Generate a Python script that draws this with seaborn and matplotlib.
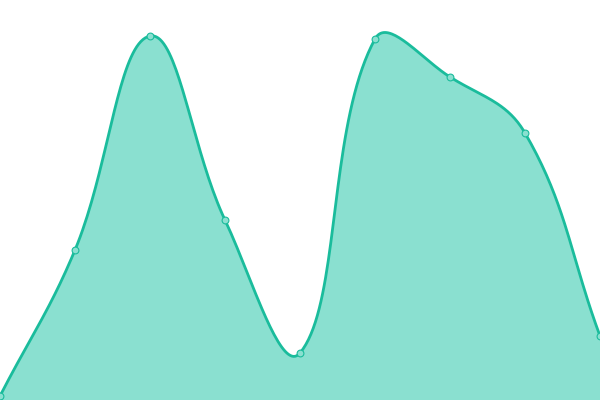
import numpy as np
import pandas as pd
import seaborn as sns
import matplotlib.pyplot as plt

categories = list(range(9))
values = [4, 150, 364, 180, 47, 361, 323, 267, 64]

line_color = "#1abc9c"
fill_color = "#8ae0d0"
smooth = 0.4


def smooth_curve(xs, ys, smooth, n=40):
    # cubic bezier smoothing in pixel space, control points from neighbours
    pts = np.column_stack([xs, ys]).astype(float)
    m = len(pts)
    cp_out = [None] * m
    cp_in = [None] * m
    for i in range(m):
        p = pts[i]
        prev = pts[i - 1] if i > 0 else p
        nxt = pts[i + 1] if i < m - 1 else p
        v = nxt - prev
        l0 = np.hypot(*(p - prev))
        l1 = np.hypot(*(nxt - p))
        r = l1 / (l0 + l1) if l0 + l1 > 0 else 0.5
        cp_in[i] = p - v * smooth * (1 - r)
        cp_out[i] = p + v * smooth * r
    t = np.linspace(0, 1, n)[:, None]
    segs = []
    for i in range(m - 1):
        p0, p1, p2, p3 = pts[i], cp_out[i], cp_in[i + 1], pts[i + 1]
        b = ((1 - t) ** 3) * p0 + 3 * ((1 - t) ** 2) * t * p1 + 3 * (1 - t) * t ** 2 * p2 + t ** 3 * p3
        segs.append(b if i == 0 else b[1:])
    c = np.vstack(segs)
    return c[:, 0], c[:, 1]


df = pd.DataFrame({"x": categories, "y": values})

sns.set_theme(style="white")
fig = plt.figure(figsize=(6, 4), dpi=100)
ax = fig.add_axes([0, 0, 1, 1])

px_per_x = 75.0
cx, cy = smooth_curve(df["x"] * px_per_x, df["y"], smooth)
cx = cx / px_per_x

ax.fill_between(cx, 0, cy, color=fill_color, lw=0, zorder=1)
ax.plot(cx, cy, color=line_color, lw=2.0, zorder=2, solid_capstyle="round")
sns.scatterplot(data=df, x="x", y="y", ax=ax, s=24, color=fill_color,
                edgecolor=line_color, linewidth=0.8, zorder=3, clip_on=False)

ax.set_xlim(0, 8)
ax.set_ylim(0, 400)
ax.axis("off")

fig.savefig("out.png", dpi=100)
